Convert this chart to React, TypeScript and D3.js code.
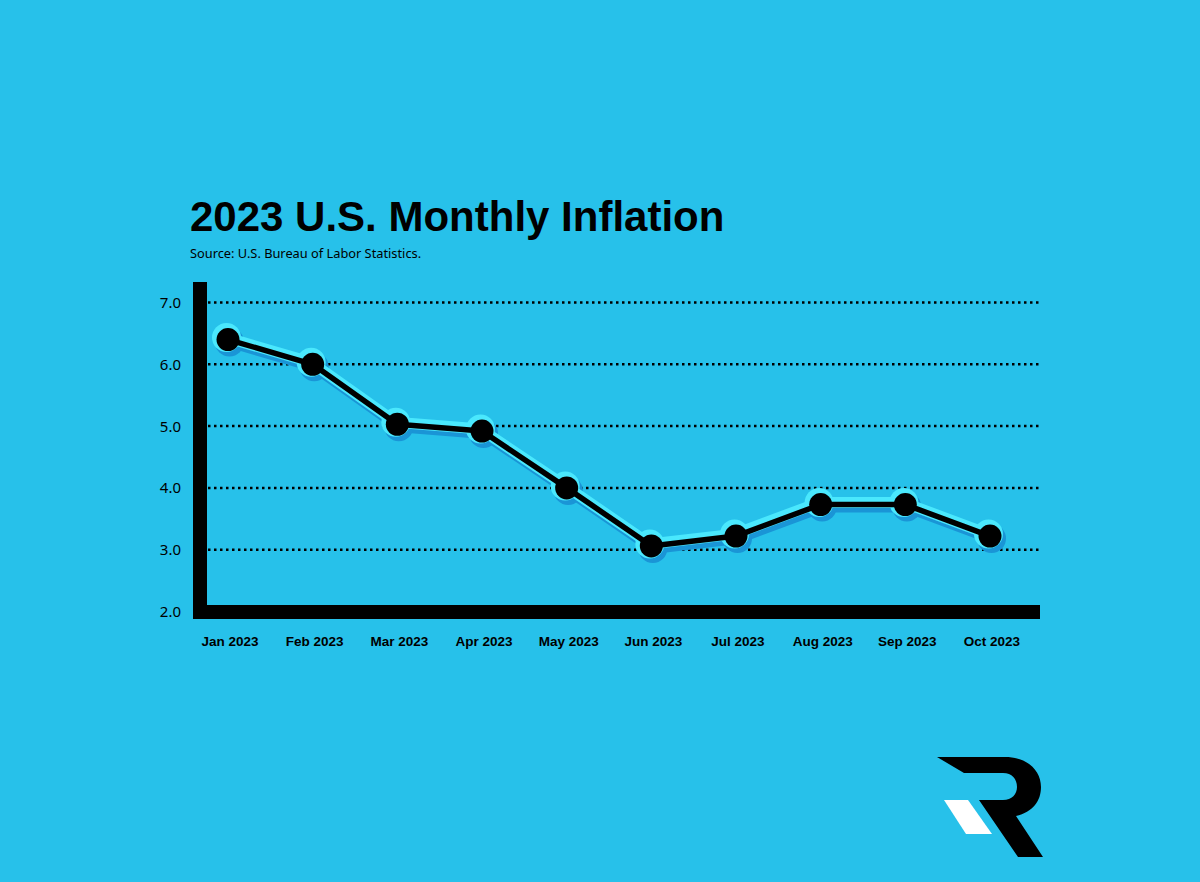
import React, { useRef, useEffect } from "react";
import * as d3 from "d3";

const months = ["Jan 2023", "Feb 2023", "Mar 2023", "Apr 2023", "May 2023", "Jun 2023", "Jul 2023", "Aug 2023", "Sep 2023", "Oct 2023"];
const inflation = [6.4, 6.0, 5.03, 4.92, 4.0, 3.06, 3.22, 3.73, 3.73, 3.22];
const yTicks = [2, 3, 4, 5, 6, 7];
const gridTicks = [3, 4, 5, 6, 7];

const title = "2023 U.S. Monthly Inflation";
const source = "Source: U.S. Bureau of Labor Statistics.";

const W = 1200;
const H = 882;
const BG = "#27c1ea";

const App = () => {
  const svgRef = useRef<SVGSVGElement>(null);

  useEffect(() => {
    const svg = d3.select(svgRef.current);
    svg.selectAll("*").remove();

    svg.append("rect").attr("width", W).attr("height", H).attr("fill", BG);

    const x = d3.scalePoint<string>().domain(months).range([228, 990]);
    const y = d3.scaleLinear().domain([2, 7]).range([611.5, 302.5]);

    // title + source
    svg.append("text")
      .attr("x", 190).attr("y", 231)
      .attr("font-family", "'Liberation Sans', Arial, sans-serif")
      .attr("font-weight", "bold").attr("font-size", 42)
      .attr("fill", "#000")
      .text(title);
    svg.append("text")
      .attr("x", 190).attr("y", 258)
      .attr("font-family", "'Noto Sans', sans-serif")
      .attr("font-size", 12.8)
      .attr("fill", "#000")
      .text(source);

    // dotted gridlines
    svg.append("g")
      .selectAll("line")
      .data(gridTicks)
      .enter()
      .append("line")
      .attr("x1", 208).attr("x2", 1042)
      .attr("y1", d => y(d)).attr("y2", d => y(d))
      .attr("stroke", "#000")
      .attr("stroke-width", 2.5)
      .attr("stroke-dasharray", "2.5,3.5");

    // y tick labels
    svg.append("g")
      .selectAll("text")
      .data(yTicks)
      .enter()
      .append("text")
      .attr("x", 181).attr("y", d => y(d))
      .attr("dy", "0.36em")
      .attr("text-anchor", "end")
      .attr("font-family", "'Noto Sans', sans-serif")
      .attr("font-size", 15)
      .attr("fill", "#000")
      .text(d => d.toFixed(1));

    // thick axes
    svg.append("rect")
      .attr("x", 193).attr("y", 282)
      .attr("width", 14).attr("height", y(2) + 7.5 - 282)
      .attr("fill", "#000");
    svg.append("rect")
      .attr("x", 193).attr("y", y(2) - 6.5)
      .attr("width", 1040 - 193).attr("height", 14)
      .attr("fill", "#000");

    // x labels
    svg.append("g")
      .selectAll("text")
      .data(months)
      .enter()
      .append("text")
      .attr("x", d => (x(d) as number) + 2)
      .attr("y", 646)
      .attr("text-anchor", "middle")
      .attr("font-family", "'Liberation Sans', Arial, sans-serif")
      .attr("font-weight", "bold").attr("font-size", 13.5)
      .attr("fill", "#000")
      .text(d => d);

    const pts: [number, number][] = months.map((m, i) => [x(m) as number, y(inflation[i])]);
    const line = d3.line();

    // glow layers: dark below-right, light above-left
    const glow = [
      { dx: 1.5, dy: 2.5, color: "#1a95d6" },
      { dx: -1.5, dy: -2, color: "#4ae8fd" },
    ];
    glow.forEach(g => {
      const gg = svg.append("g").attr("transform", `translate(${g.dx},${g.dy})`);
      gg.append("path")
        .attr("d", line(pts))
        .attr("fill", "none")
        .attr("stroke", g.color)
        .attr("stroke-width", 11)
        .attr("stroke-linejoin", "round");
      gg.selectAll("circle")
        .data(pts)
        .enter()
        .append("circle")
        .attr("cx", d => d[0]).attr("cy", d => d[1])
        .attr("r", 14.5)
        .attr("fill", g.color);
    });

    svg.append("path")
      .attr("d", line(pts))
      .attr("fill", "none")
      .attr("stroke", "#000")
      .attr("stroke-width", 5.5)
      .attr("stroke-linejoin", "round");
    svg.append("g")
      .selectAll("circle")
      .data(pts)
      .enter()
      .append("circle")
      .attr("cx", d => d[0]).attr("cy", d => d[1])
      .attr("r", 11.5)
      .attr("fill", "#000");

    // logo
    const logo = svg.append("g");
    logo.append("path")
      .attr("d", "M937,757 L1005,757 C1028,757 1041,771 1041,787 C1041,801 1033,812 1016,816 L1043,857 L1018,857 L979,800 L1003,800 C1012,800 1017,794 1017,787 C1017,779 1012,773 1003,773 L964,773 Z")
      .attr("fill", "#000");
    logo.append("path")
      .attr("d", "M944,800 L968,800 L992,834 L966,834 Z")
      .attr("fill", "#fff");
  }, []);

  return (
    <svg ref={svgRef} width={W} height={H} style={{ display: "block", position: "absolute", left: 0, top: 0 }}></svg>
  );
};

export default App;
